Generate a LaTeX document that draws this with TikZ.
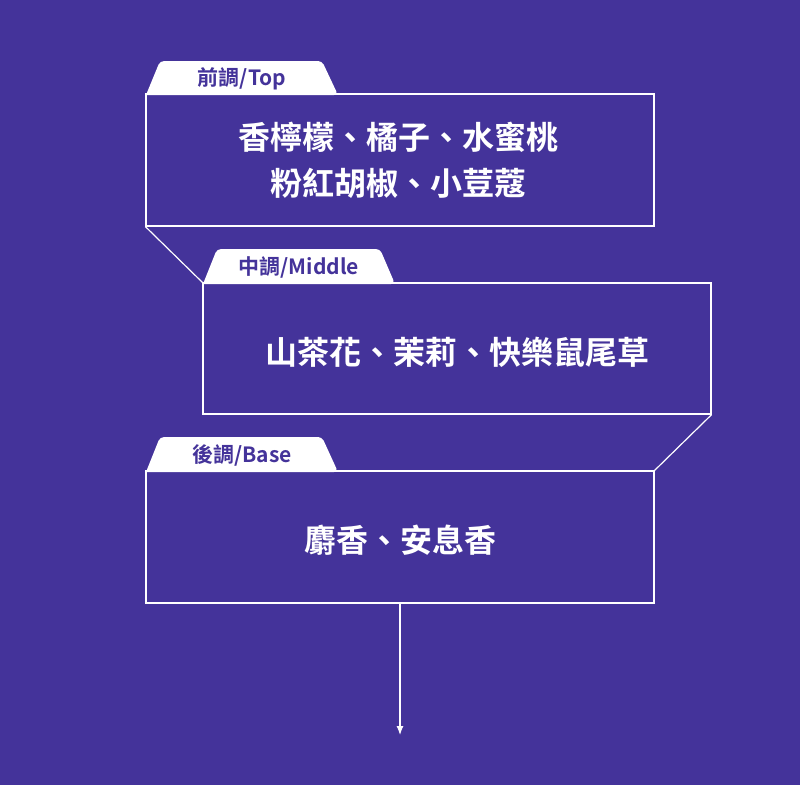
\documentclass[tikz,border=0pt]{standalone}
\usepackage{fontspec}
\usetikzlibrary{arrows.meta}
\newfontfamily\cjk{Noto Sans CJK TC Bold}
\definecolor{bg}{HTML}{44339A}
\begin{document}
\begin{tikzpicture}[x=1pt,y=-1pt,
  boxline/.style={draw=white,line width=1.2pt},
  tabtxt/.style={text=bg,font=\cjk\fontsize{21}{24}\selectfont},
  maintxt/.style={text=white,font=\cjk\fontsize{32}{46}\selectfont,align=center}]
\fill[bg] (0,0) rectangle (800,785);
\useasboundingbox (0,0) rectangle (800,785);
% tabs
\fill[white,rounded corners=4pt] (146,95) -- (160,61) -- (322,61) -- (338,95) [sharp corners] -- cycle;
\fill[white,rounded corners=4pt] (203,284) -- (217,249) -- (380,249) -- (395,284) [sharp corners] -- cycle;
\fill[white,rounded corners=4pt] (146,472) -- (160,437) -- (322,437) -- (338,472) [sharp corners] -- cycle;
\node[tabtxt] (t1) at (242,79) {前調/Top};
\node[tabtxt] (t2) at (299,267) {中調/Middle};
\node[tabtxt] (t3) at (242,455) {後調/Base};
% boxes
\node[boxline,minimum width=508pt,minimum height=132pt,inner sep=0pt] (b1) at (400,160) {};
\node[boxline,minimum width=508pt,minimum height=131pt,inner sep=0pt] (b2) at (457,348.5) {};
\node[boxline,minimum width=508pt,minimum height=132pt,inner sep=0pt] (b3) at (400,537) {};
\node[maintxt] (m1) at (398,160) {香檸檬、橘子、水蜜桃\\粉紅胡椒、小荳蔻};
\node[maintxt] (m2) at (457,352) {山茶花、茉莉、快樂鼠尾草};
\node[maintxt] (m3) at (400,540) {麝香、安息香};
% connectors
\draw[boxline] (b1.south west) -- (b2.north west);
\draw[boxline] (b2.south east) -- (b3.north east);
\coordinate (end) at (400,735);
\draw[white,line width=1.2pt,-{Latex[length=9pt,width=7pt]}] (b3.south) -- (end);
\end{tikzpicture}
\end{document}
